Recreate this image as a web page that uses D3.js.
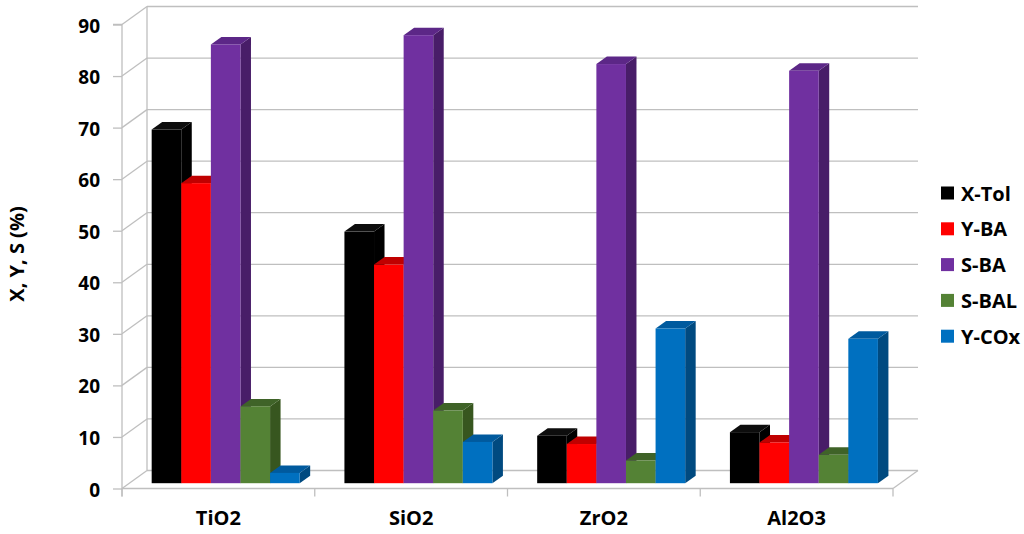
<!DOCTYPE html>
<html>
<head>
<meta charset="utf-8">
<script src="https://cdn.jsdelivr.net/npm/d3@7"></script>
<style>
  html, body { margin: 0; padding: 0; background: #fff; }
  svg text { font-family: "Open Sans", Lato, "Liberation Sans", sans-serif; font-weight: bold; fill: #000; }
</style>
</head>
<body>
<svg id="chart" width="1024" height="534"></svg>
<script>
const categories = ["TiO2", "SiO2", "ZrO2", "Al2O3"];
const seriesNames = ["X-Tol", "Y-BA", "S-BA", "S-BAL", "Y-COx"];
const xTol  = [68.6, 48.8, 9.2, 9.9];
const yBA   = [58.2, 42.4, 7.6, 7.9];
const sBA   = [85.1, 86.9, 81.3, 80.0];
const sBAL  = [14.9, 14.1, 4.4, 5.5];
const yCOx  = [2.0, 8.0, 30.0, 28.0];
const seriesValues = [xTol, yBA, sBA, sBAL, yCOx];
const yTicks = [0, 10, 20, 30, 40, 50, 60, 70, 80, 90];
const frontColors = ["#000000", "#FF0000", "#7030A0", "#548235", "#0070C0"];
const topColors   = ["#0d0d0d", "#C00000", "#5C2787", "#3F6328", "#005A9E"];
const sideColors  = ["#000000", "#A00000", "#481D68", "#37561F", "#004A80"];

const svg = d3.select("#chart");

const left = 122, right = 893;
const wall = { dx: 25, dy: -18 };
const barOff = { dx: 7.3, dy: -5.3 };
const barDepth = { dx: 10.5, dy: -7.5 };

const y = d3.scaleLinear().domain([0, 90]).range([488.5, 24.5]);
const x0 = d3.scaleBand().domain(categories).range([left, right]).paddingInner(0).paddingOuter(0);
const x1 = d3.scaleBand().domain(seriesNames).range([0, x0.bandwidth()]).paddingInner(0).paddingOuter(0.756);

const gridColor = "#BFBFBF";
const g = svg.append("g");

g.selectAll("line.grid").data(yTicks).join("line")
  .attr("class", "grid")
  .attr("x1", left + wall.dx).attr("x2", right + wall.dx)
  .attr("y1", d => y(d) + wall.dy).attr("y2", d => y(d) + wall.dy)
  .attr("stroke", gridColor).attr("stroke-width", 1.3);

g.selectAll("line.diag").data(yTicks).join("line")
  .attr("class", "diag")
  .attr("x1", left).attr("y1", d => y(d))
  .attr("x2", left + wall.dx).attr("y2", d => y(d) + wall.dy)
  .attr("stroke", gridColor).attr("stroke-width", 1.3);

g.append("line")
  .attr("x1", left + wall.dx).attr("x2", left + wall.dx)
  .attr("y1", y(90) + wall.dy).attr("y2", y(0) + wall.dy)
  .attr("stroke", gridColor).attr("stroke-width", 1.3);

g.append("line")
  .attr("x1", left).attr("x2", right)
  .attr("y1", y(0)).attr("y2", y(0))
  .attr("stroke", gridColor).attr("stroke-width", 1.3);
g.append("line")
  .attr("x1", right).attr("y1", y(0))
  .attr("x2", right + wall.dx).attr("y2", y(0) + wall.dy)
  .attr("stroke", gridColor).attr("stroke-width", 1.3);

const boundaries = categories.map(c => x0(c)).concat([x0(categories[categories.length - 1]) + x0.bandwidth()]);
g.selectAll("line.xtick").data(boundaries).join("line")
  .attr("class", "xtick")
  .attr("x1", d => d).attr("x2", d => d)
  .attr("y1", y(0)).attr("y2", y(0) + 8)
  .attr("stroke", gridColor).attr("stroke-width", 1.3);

const yAxis = d3.axisLeft(y).tickValues(yTicks).tickSize(9).tickPadding(13);
const ya = svg.append("g").attr("transform", `translate(${left},0)`).call(yAxis);
ya.select(".domain").attr("stroke", gridColor).attr("stroke-width", 1.3)
  .attr("d", `M-9,${y(90)}H0V${y(0) + 8}`);
ya.selectAll(".tick line").attr("stroke", gridColor).attr("stroke-width", 1.3);
ya.selectAll(".tick text").style("font-size", "19px").attr("fill", "#000").attr("dy", "0.4em")
  .style("font-family", "'Open Sans', Lato, sans-serif").style("font-weight", "bold");

const bars = svg.append("g");
categories.forEach((cat, ci) => {
  seriesNames.forEach((s, si) => {
    const v = seriesValues[si][ci];
    const bx = x0(cat) + x1(s) + barOff.dx;
    const bw = x1.bandwidth();
    const yt = y(v) + barOff.dy;
    const yb = y(0) + barOff.dy;
    const dx = barDepth.dx, dy = barDepth.dy;
    const bg = bars.append("g");
    bg.append("path")
      .attr("d", `M${bx + bw},${yb}L${bx + bw + dx},${yb + dy}L${bx + bw + dx},${yt + dy}L${bx + bw},${yt}Z`)
      .attr("fill", sideColors[si]);
    bg.append("path")
      .attr("d", `M${bx},${yt}L${bx + dx},${yt + dy}L${bx + bw + dx},${yt + dy}L${bx + bw},${yt}Z`)
      .attr("fill", topColors[si]);
    bg.append("rect")
      .attr("x", bx).attr("y", yt)
      .attr("width", bw).attr("height", yb - yt)
      .attr("fill", frontColors[si]);
  });
});

svg.append("g").selectAll("text").data(categories).join("text")
  .attr("x", d => x0(d) + x0.bandwidth() / 2)
  .attr("y", 525)
  .attr("text-anchor", "middle")
  .style("font-size", "20px")
  .text(d => d);

svg.append("text")
  .attr("transform", "translate(16,254) rotate(-90)")
  .attr("text-anchor", "middle")
  .attr("dominant-baseline", "central")
  .style("font-size", "20px")
  .text("X, Y, S (%)");

const legend = svg.append("g");
const ly0 = 193, lstep = 35.8;
seriesNames.forEach((s, i) => {
  const yy = ly0 + i * lstep;
  legend.append("rect").attr("x", 941).attr("y", yy - 6.5).attr("width", 13).attr("height", 13)
    .attr("fill", frontColors[i]);
  legend.append("text").attr("x", 961).attr("y", yy)
    .attr("dominant-baseline", "central")
    .style("font-size", "20px")
    .text(s);
});
</script>
</body>
</html>
